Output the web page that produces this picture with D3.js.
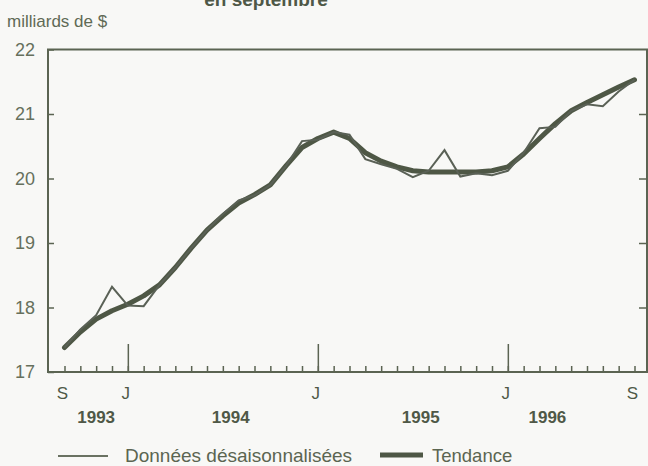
<!DOCTYPE html>
<html>
<head>
<meta charset="utf-8">
<script src="https://cdn.jsdelivr.net/npm/d3@7"></script>
<style>
body { margin: 0; background: #f8f8f6; }
svg { display: block; }
text { font-family: "Liberation Sans", Arial, sans-serif; }
</style>
</head>
<body>
<script>
// mois : 0 = septembre 1993 ... 36 = septembre 1996
var months = d3.range(0, 37);
var brutes = [17.38,17.66,17.88,18.32,18.03,18.02,18.35,18.62,18.92,19.2,19.45,19.66,19.74,19.9,20.2,20.58,20.6,20.72,20.68,20.3,20.22,20.15,20.02,20.12,20.44,20.03,20.08,20.05,20.12,20.4,20.78,20.8,21.05,21.15,21.12,21.35,21.53];
var tendance = [17.38,17.62,17.82,17.95,18.05,18.18,18.35,18.62,18.92,19.2,19.42,19.62,19.75,19.9,20.2,20.48,20.62,20.72,20.62,20.4,20.27,20.18,20.12,20.1,20.1,20.1,20.1,20.12,20.18,20.38,20.62,20.85,21.05,21.18,21.3,21.42,21.53];

var yTicks = [17, 18, 19, 20, 21, 22];
var janIdx = [4, 16, 28];
var monthTickIdx = [0, 4, 16, 28, 36];
var monthTickText = ["S", "J", "J", "J", "S"];
var yearIdx = [2, 10.5, 22.5, 30.5];
var yearText = ["1993", "1994", "1995", "1996"];

var w = 648;
var h = 466;
var pLeft = 48, pRight = 647, pTop = 49.5, pBottom = 372;

var svg = d3.select("body")
	.append("svg")
	.attr("width", w)
	.attr("height", h);

var x = d3.scaleLinear().domain([0, 36]).range([64.5, 634.5]);
var y = d3.scaleLinear().domain([17, 22]).range([pBottom, pTop]);

var axisCol = "#5b6452";

// titre (coupé en haut)
svg.append("text")
	.attr("x", 266).attr("y", 6)
	.attr("text-anchor", "middle")
	.style("font-size", "19px").style("font-weight", "bold")
	.style("fill", "#4f5847")
	.text("en septembre");

svg.append("text")
	.attr("x", 7).attr("y", 27)
	.style("font-size", "17px")
	.style("fill", "#5f6a55")
	.text("milliards de $");

// cadre
svg.append("rect")
	.attr("x", pLeft).attr("y", pTop)
	.attr("width", pRight - pLeft).attr("height", pBottom - pTop)
	.style("fill", "none")
	.style("stroke", axisCol)
	.style("stroke-width", 2);

// axes y
var yl = svg.append("g")
	.attr("transform", "translate(" + pLeft + ",0)")
	.call(d3.axisLeft(y).tickValues(yTicks).tickSize(-6).tickPadding(13).tickFormat(d3.format("d")));
var yr = svg.append("g")
	.attr("transform", "translate(" + pRight + ",0)")
	.call(d3.axisRight(y).tickValues(yTicks.slice(1, 5)).tickSize(-8).tickFormat(""));

// axes x
var xs = svg.append("g")
	.attr("transform", "translate(0," + pBottom + ")")
	.call(d3.axisBottom(x).tickValues(months).tickSize(-6).tickFormat(""));
var xj = svg.append("g")
	.attr("transform", "translate(0," + pBottom + ")")
	.call(d3.axisBottom(x).tickValues(janIdx).tickSize(-28).tickFormat(""));

[yl, yr, xs, xj].forEach(function(g) {
	g.select(".domain").remove();
	g.selectAll(".tick line").style("stroke", axisCol).style("stroke-width", 1.5);
});
yl.selectAll("text")
	.style("font-size", "18px")
	.style("fill", "#66705c");

svg.selectAll("text.mois")
	.data(monthTickIdx)
	.enter()
	.append("text")
	.attr("class", "mois")
	.attr("x", function(d) { return x(d) - 2; })
	.attr("y", 399)
	.attr("text-anchor", "middle")
	.style("font-size", "17px")
	.style("fill", "#4f5847")
	.text(function(d, i) { return monthTickText[i]; });

svg.selectAll("text.annee")
	.data(yearIdx)
	.enter()
	.append("text")
	.attr("class", "annee")
	.attr("x", function(d) { return x(d); })
	.attr("y", 423)
	.attr("text-anchor", "middle")
	.style("font-size", "17px")
	.style("font-weight", "bold")
	.style("fill", "#4f5847")
	.text(function(d, i) { return yearText[i]; });

// courbes
var line = d3.line()
	.x(function(d, i) { return x(months[i]); })
	.y(function(d) { return y(d); });

svg.append("path")
	.datum(tendance)
	.attr("d", line)
	.style("fill", "none")
	.style("stroke", "#4e5745")
	.style("stroke-width", 5)
	.style("stroke-linejoin", "round")
	.style("stroke-linecap", "round");

svg.append("path")
	.datum(brutes)
	.attr("d", line)
	.style("fill", "none")
	.style("stroke", "#5a6156")
	.style("stroke-width", 2)
	.style("stroke-linejoin", "miter");

// légende
var leg = svg.append("g");
leg.append("line")
	.attr("x1", 58).attr("x2", 108).attr("y1", 456).attr("y2", 456)
	.style("stroke", "#6a7262").style("stroke-width", 2);
leg.append("text")
	.attr("x", 125).attr("y", 462)
	.style("font-size", "19px").style("fill", "#5b6551")
	.text("Données désaisonnalisées");
leg.append("line")
	.attr("x1", 380).attr("x2", 423).attr("y1", 455).attr("y2", 455)
	.style("stroke", "#4e5745").style("stroke-width", 5);
leg.append("text")
	.attr("x", 432).attr("y", 462)
	.style("font-size", "18.5px").style("fill", "#5b6551")
	.text("Tendance");
</script>
</body>
</html>
